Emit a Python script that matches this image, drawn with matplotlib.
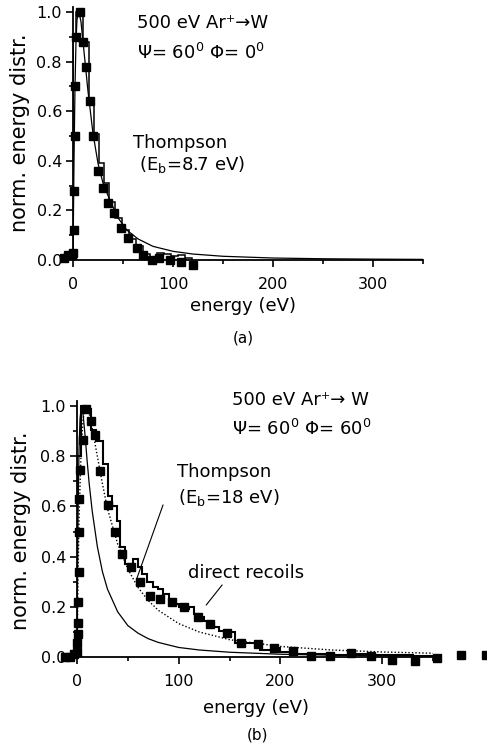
import matplotlib
matplotlib.use("Agg")
import matplotlib.pyplot as plt
from matplotlib.ticker import MultipleLocator, FormatStrFormatter

plt.rcParams['font.family'] = ['DejaVu Sans']
plt.rcParams['mathtext.fontset'] = 'dejavusans'

# ---------------- data: panel (a) ----------------
a_sq_E = [-9, -5, -1, 0, 0.5, 1, 1.5, 2, 2.5, 6.5, 10, 13, 16.5, 20, 25, 30, 35, 41, 48,
          55, 64, 70, 79, 86, 97, 108, 120]
a_sq_v = [0.01, 0.02, 0.02, 0.03, 0.12, 0.28, 0.50, 0.70, 0.90, 1.00, 0.88, 0.78, 0.64, 0.50,
          0.36, 0.29, 0.23, 0.19, 0.13, 0.09, 0.05, 0.02, 0.00, 0.01, 0.00, -0.01, -0.02]

a_hist_edges = [0, 3, 10, 16, 21, 26, 31, 36, 42, 49, 56, 63, 70, 77, 84, 91, 98, 105, 112, 119]
a_hist_vals = [0.90, 1.00, 0.88, 0.645, 0.51, 0.39, 0.31, 0.235, 0.17, 0.12, 0.085, 0.055,
               0.025, 0.01, 0.03, 0.025, 0.015, 0.02, 0.01]

# Thompson curve in panel (a), E_b = 8.7 eV
a_th_E = [0, 1, 2, 3, 4, 6, 8, 10, 12, 15, 20, 25, 30, 37, 45, 54, 65, 80, 100, 120,
          150, 200, 250, 300, 350]
a_th_v = [0, 0.40, 0.70, 0.88, 0.97, 1.0, 0.96, 0.88, 0.80, 0.68, 0.51, 0.39, 0.31, 0.24,
          0.17, 0.12, 0.085, 0.055, 0.035, 0.024, 0.015, 0.008, 0.005, 0.0035, 0.0025]

# ---------------- data: panel (b) ----------------
b_sq_E = [-12, -7, -3, 0, 0.3, 0.6, 0.9, 1.2, 1.5, 1.9, 2.4, 3, 6, 9, 13.5, 17.7, 23, 30,
          37, 44, 53, 62, 72, 82, 93, 105, 119, 131, 147, 161, 178, 194, 212,
          230, 249, 269, 289, 310, 332, 354, 378, 402]
b_sq_v = [0.00, 0.00, 0.01, 0.02, 0.055, 0.09, 0.135, 0.22, 0.34, 0.50, 0.63, 0.745,
          0.865, 0.99, 0.94, 0.885, 0.74, 0.607, 0.50, 0.41, 0.36, 0.30, 0.245,
          0.23, 0.22, 0.20, 0.16, 0.13, 0.094, 0.056, 0.052, 0.037, 0.024,
          0.005, 0.005, 0.015, 0.004, -0.012, -0.016, -0.005, 0.008, 0.008]

b_hist_edges = [0, 4, 9, 14, 19, 26, 30, 34, 39, 42, 47, 55, 60, 64, 69, 75, 80, 85, 90, 95,
                100, 105, 110, 115, 120, 125, 130, 135, 140, 145, 150, 155, 165, 180, 192,
                200, 210, 230, 250, 270, 290, 310, 330, 350]
b_hist_vals = [0.80, 1.0, 0.99, 0.905, 0.86, 0.77, 0.64, 0.60, 0.54, 0.44, 0.37, 0.39, 0.36,
               0.33, 0.30, 0.28, 0.27, 0.25, 0.23, 0.21, 0.20, 0.19, 0.20, 0.17, 0.16, 0.145,
               0.13, 0.12, 0.105, 0.10, 0.10, 0.055, 0.055, 0.028, 0.035, 0.02, 0.01, 0.012,
               0.008, 0.01, 0.006, 0.008, 0.004]

# thin solid curve in panel (b) (E_b = 8.7 eV Thompson)
b_th87_E = [0, 0.5, 1, 2, 3, 4.35, 6, 8, 10, 12, 15, 20, 25, 30, 40, 50, 60, 70, 80, 100,
            120, 150, 200, 250, 300, 350]
b_th87_v = [0, 0.33, 0.56, 0.83, 0.95, 1.0, 0.965, 0.88, 0.78, 0.69, 0.58, 0.44, 0.34, 0.27,
            0.18, 0.125, 0.095, 0.073, 0.058, 0.038, 0.028, 0.019, 0.011, 0.0075, 0.005, 0.004]

# dotted Thompson curve, E_b = 18 eV
th18_E = [0, 1, 2, 4, 6, 9, 12, 15, 20, 25, 30, 40, 50, 60, 70, 80, 100, 120, 150, 200,
          250, 300, 350]
th18_v = [0, 0.32, 0.55, 0.82, 0.95, 1.0, 0.97, 0.91, 0.80, 0.69, 0.59, 0.45, 0.35, 0.277,
          0.225, 0.186, 0.133, 0.10, 0.069, 0.042, 0.028, 0.020, 0.015]

# ---------------- figure ----------------
W, H = 487, 748
fig = plt.figure(figsize=(W / 100, H / 100), dpi=100)


def rect(l, t, r, b):
    return [l / W, 1 - b / H, (r - l) / W, (b - t) / H]


def fx(x):
    return x / W


def fy(y):
    return 1 - y / H


def style(ax):
    for s in ['top', 'right']:
        ax.spines[s].set_visible(False)
    for s in ['left', 'bottom']:
        ax.spines[s].set_linewidth(1.3)
    ax.set_xlim(0, 350)
    ax.set_ylim(0, 1.02)
    ax.xaxis.set_major_locator(MultipleLocator(100))
    ax.xaxis.set_minor_locator(MultipleLocator(50))
    ax.yaxis.set_major_locator(MultipleLocator(0.2))
    ax.yaxis.set_minor_locator(MultipleLocator(0.1))
    ax.yaxis.set_major_formatter(FormatStrFormatter('%.1f'))
    ax.tick_params(which='both', direction='out', width=1.2, colors='black')
    ax.tick_params(which='major', length=5)
    ax.tick_params(which='minor', length=3)
    ax.tick_params(axis='x', which='major', pad=7, labelsize=11.5)
    ax.tick_params(axis='y', which='major', pad=3, labelsize=11.5)
    ax.patch.set_alpha(0)


TXT = 13

# ---- panel (a) ----
ax1 = fig.add_axes(rect(73, 7, 423, 260))
style(ax1)
ax1.stairs(a_hist_vals, a_hist_edges, baseline=0, color='black', lw=1.1)
ax1.plot(a_th_E, a_th_v, color='black', lw=0.9)
ax1.plot(a_sq_E, a_sq_v, 's', color='black', ms=5.5, clip_on=False, zorder=5)

fig.text(fx(137), fy(28), "500 eV Ar\u207a\u2192W", fontsize=TXT, va='baseline')
fig.text(fx(137), fy(59), r"$\Psi$= 60$^{0}$ $\Phi$= 0$^{0}$", fontsize=TXT, va='baseline')
fig.text(fx(133), fy(148), "Thompson", fontsize=TXT, va='baseline')
fig.text(fx(139), fy(170), r"(E$_{\mathrm{b}}$=8.7 eV)", fontsize=TXT, va='baseline')
fig.text(fx(243), fy(306), "energy (eV)", fontsize=13, ha='center', va='center')
fig.text(fx(243), fy(338), "(a)", fontsize=11, ha='center', va='center')
fig.text(fx(20), fy(133), "norm. energy distr.", fontsize=15, rotation=90,
         ha='center', va='center')

# ---- panel (b) ----
ax2 = fig.add_axes(rect(77, 401, 433, 657))
style(ax2)
ax2.stairs(b_hist_vals, b_hist_edges, baseline=0, color='black', lw=1.5)
ax2.plot(b_th87_E, b_th87_v, color='black', lw=0.9)
ax2.plot(th18_E, th18_v, color='black', lw=1.0, ls=(0, (1, 1.5)))
ax2.plot(b_sq_E, b_sq_v, 's', color='black', ms=5.5, clip_on=False, zorder=5)

# pointer lines
ax2.annotate("", xy=(59, 0.315), xytext=(84.6, 0.606),
             arrowprops=dict(arrowstyle='-', color='black', lw=0.8, shrinkA=0, shrinkB=0))
ax2.annotate("", xy=(127, 0.207), xytext=(142.7, 0.287),
             arrowprops=dict(arrowstyle='-', color='black', lw=0.8, shrinkA=0, shrinkB=0))

fig.text(fx(232), fy(405), "500 eV Ar\u207a\u2192 W", fontsize=TXT, va='baseline')
fig.text(fx(232), fy(435), r"$\Psi$= 60$^{0}$ $\Phi$= 60$^{0}$", fontsize=TXT, va='baseline')
fig.text(fx(177), fy(477), "Thompson", fontsize=TXT, va='baseline')
fig.text(fx(178), fy(503), r"(E$_{\mathrm{b}}$=18 eV)", fontsize=TXT, va='baseline')
fig.text(fx(188), fy(578), "direct recoils", fontsize=TXT, va='baseline')
fig.text(fx(256), fy(708), "energy (eV)", fontsize=13, ha='center', va='center')
fig.text(fx(257), fy(735), "(b)", fontsize=11, ha='center', va='center')
fig.text(fx(21), fy(531), "norm. energy distr.", fontsize=15, rotation=90,
         ha='center', va='center')

fig.savefig("out.png", dpi=100)
